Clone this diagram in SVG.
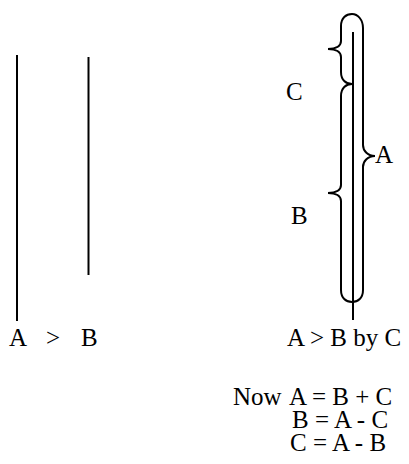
<svg xmlns="http://www.w3.org/2000/svg" width="409" height="464" viewBox="0 0 409 464">
<style>
.ln{stroke:#000;stroke-width:2;fill:none}
.t{font-family:"Liberation Serif","Times New Roman",serif;font-size:25px;fill:#000}
</style>
<rect width="409" height="464" fill="#fff"/>
<g id="connectors">
<line class="ln" x1="17" y1="55" x2="17" y2="321"/>
<line class="ln" x1="88.5" y1="57" x2="88.5" y2="275"/>
<line class="ln" x1="353" y1="32" x2="353" y2="320"/>
</g>
<g id="brace-C">
<path class="ln" d="M352,84 C346,84 341,80 341,72 L341,57 C341,52 336,49 328,49 C336,49 341,46 341,41 L341,26 C341,18 346,14 352,14"/>
</g>
<g id="brace-B">
<path class="ln" d="M352,84 C346,84 341,88 341,96 L341,185 C341,190 336,193 328,193 C336,193 341,196 341,201 L341,290 C341,298 346,302 352,302"/>
</g>
<g id="brace-A">
<path class="ln" d="M352,14 C358,14 363,20 363,28 L363,145 C363,151 368,156 375,156 C368,156 363,161 363,167 L363,290 C363,298 358,302 352,302"/>
</g>
<g id="labels">
<text class="t" x="9" y="346">A</text>
<text class="t" x="46" y="346">&gt;</text>
<text class="t" x="81" y="346">B</text>
<text class="t" x="287" y="346">A &gt; B by C</text>
<text class="t" x="286" y="100">C</text>
<text class="t" x="291" y="224">B</text>
<text class="t" x="375" y="163">A</text>
<text class="t" x="233" y="405">Now</text>
<text class="t" x="289" y="405">A = B + C</text>
<text class="t" x="292" y="428">B = A - C</text>
<text class="t" x="290" y="451">C = A - B</text>
</g>
</svg>
